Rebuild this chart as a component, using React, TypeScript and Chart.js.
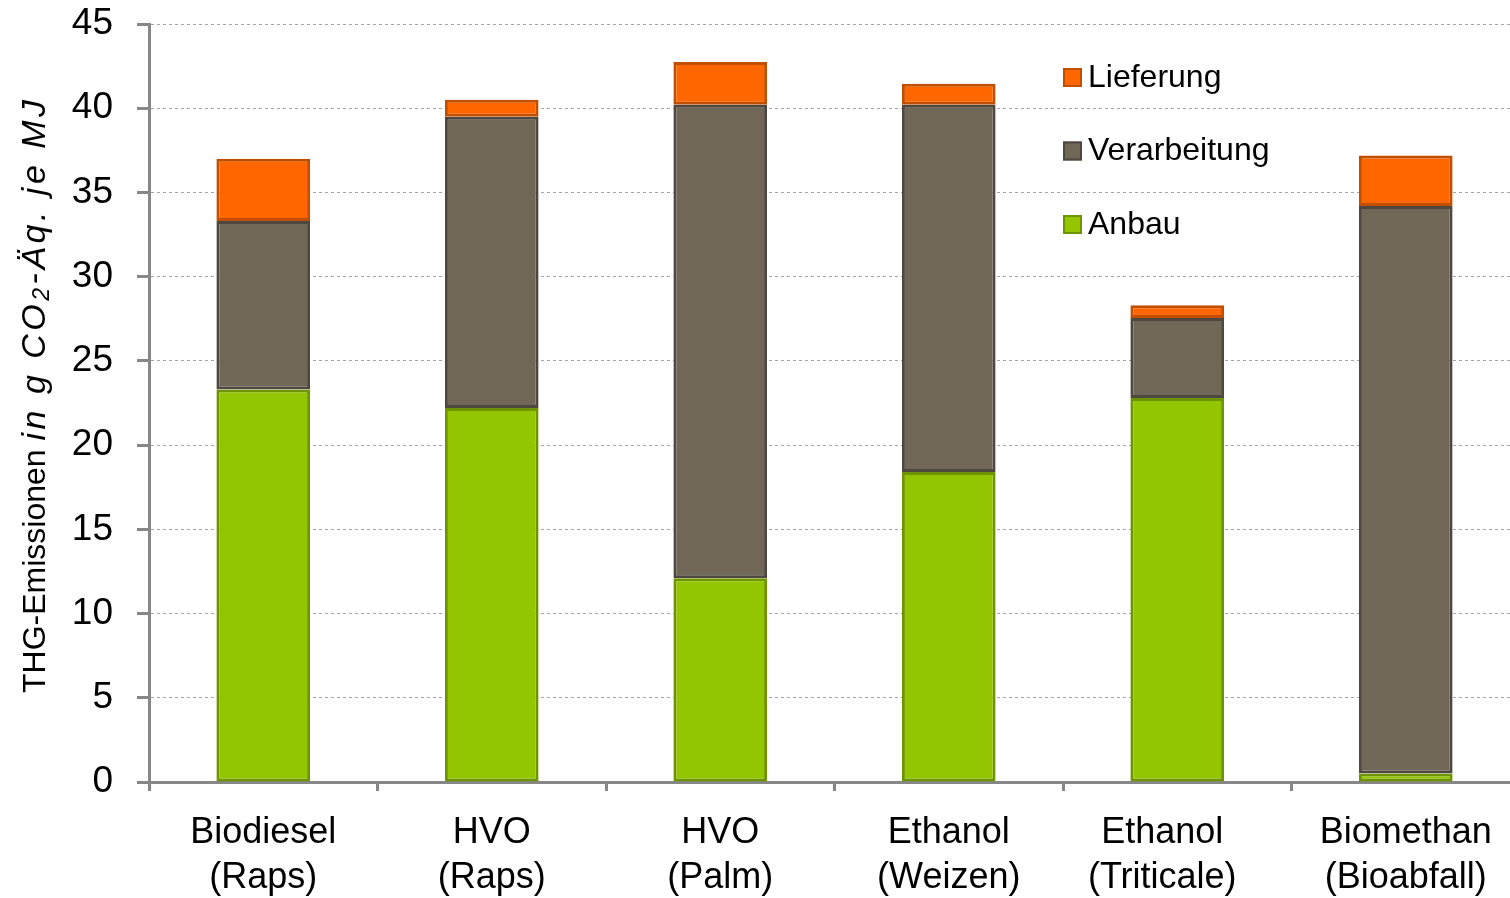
import React, { useEffect, useRef } from "react";
import { Chart, registerables } from "chart.js";

Chart.register(...registerables);

const categories: string[][] = [
  ["Biodiesel", "(Raps)"],
  ["HVO", "(Raps)"],
  ["HVO", "(Palm)"],
  ["Ethanol", "(Weizen)"],
  ["Ethanol   ", "(Triticale)   "],
  ["Biomethan", "(Bioabfall)"],
];

const anbau = [23.3, 22.2, 12.1, 18.4, 22.8, 0.5];
const verarbeitung = [10.0, 17.3, 28.1, 21.8, 4.75, 33.7];
const lieferung = [3.7, 1.0, 2.55, 1.25, 0.75, 3.0];

const yTicks = [0, 5, 10, 15, 20, 25, 30, 35, 40, 45];

const FONT = "'Liberation Sans', Arial, sans-serif";
const AXIS_GREY = "#878787";

// Legend drawn inside the plot area, in reverse stacking order
const legendPlugin = {
  id: "innerLegend",
  afterDraw(chart: any) {
    const ctx = chart.ctx;
    const items = [...chart.data.datasets].reverse();
    ctx.save();
    ctx.font = `32px ${FONT}`;
    ctx.textBaseline = "middle";
    ctx.textAlign = "left";
    items.forEach((ds: any, i: number) => {
      const cy = 77 + i * 73.5;
      const bx = 1063;
      ctx.fillStyle = ds.backgroundColor;
      ctx.fillRect(bx, cy - 9, 19, 19);
      ctx.strokeStyle = ds.borderColor;
      ctx.lineWidth = 2;
      ctx.strokeRect(bx + 1, cy - 8, 17, 17);
      ctx.fillStyle = "#000";
      ctx.fillText(ds.label, 1088, cy + 1);
    });
    ctx.restore();
  },
};

// Rotated y-axis title with an italic unit part and a subscript
const yTitlePlugin = {
  id: "yTitle",
  afterDraw(chart: any) {
    const ctx = chart.ctx;
    const spacing = 3.5;
    const parts = [
      { t: "THG-Emissionen ", f: `32px ${FONT}`, dy: 0, sp: 0 },
      { t: "in g CO", f: `italic 34px ${FONT}`, dy: 0, sp: spacing },
      { t: "2", f: `italic 23px ${FONT}`, dy: 7, sp: spacing },
      { t: "-Äq. je MJ", f: `italic 34px ${FONT}`, dy: 0, sp: spacing },
    ];
    ctx.save();
    ctx.translate(35, 693);
    ctx.rotate(-Math.PI / 2);
    ctx.textBaseline = "middle";
    ctx.textAlign = "left";
    ctx.fillStyle = "#000";
    let x = 0;
    parts.forEach((p) => {
      ctx.font = p.f;
      if (p.sp === 0) {
        ctx.fillText(p.t, x, p.dy + 1);
        x += ctx.measureText(p.t).width;
      } else {
        for (const ch of p.t) {
          ctx.fillText(ch, x, p.dy + 1);
          x += ctx.measureText(ch).width + p.sp;
        }
      }
    });
    ctx.restore();
  },
};

export default function App() {
  const ref = useRef<HTMLCanvasElement | null>(null);

  useEffect(() => {
    if (!ref.current) return;
    const chart = new Chart(ref.current, {
      type: "bar",
      data: {
        labels: categories,
        datasets: [
          {
            label: "Anbau",
            data: anbau,
            backgroundColor: "#94C600",
            borderColor: "#6E9400",
            borderWidth: 3,
            borderSkipped: false,
          },
          {
            label: "Verarbeitung",
            data: verarbeitung,
            backgroundColor: "#706757",
            borderColor: "#4E4840",
            borderWidth: 3,
            borderSkipped: false,
          },
          {
            label: "Lieferung",
            data: lieferung,
            backgroundColor: "#FF6600",
            borderColor: "#C24E00",
            borderWidth: 3,
            borderSkipped: false,
          },
        ],
      },
      plugins: [legendPlugin, yTitlePlugin],
      options: {
        responsive: false,
        animation: false,
        layout: { padding: { top: 24, right: 10, left: 0, bottom: 0 } },
        datasets: {
          bar: { barPercentage: 0.41, categoryPercentage: 1 },
        },
        plugins: {
          legend: { display: false },
          tooltip: { enabled: false },
        },
        scales: {
          x: {
            stacked: true,
            afterFit: (scale: any) => {
              scale.height = 116;
              scale.paddingLeft = 0;
              scale.paddingRight = 0;
            },
            border: { display: true, color: AXIS_GREY, width: 3 },
            grid: {
              display: true,
              drawOnChartArea: false,
              offset: true,
              tickLength: 9,
              tickColor: AXIS_GREY,
              tickWidth: 3,
            },
            ticks: {
              color: "#000",
              padding: 20,
              font: { family: FONT, size: 36, lineHeight: 1.25 },
              maxRotation: 0,
              autoSkip: false,
            },
          },
          y: {
            stacked: true,
            min: 0,
            max: 45,
            afterFit: (scale: any) => {
              scale.width = 149;
              scale.paddingTop = 0;
              scale.paddingBottom = 0;
            },
            afterBuildTicks: (scale: any) => {
              scale.ticks = yTicks.map((v) => ({ value: v }));
            },
            border: { display: true, color: AXIS_GREY, width: 3, dash: [3, 3] },
            grid: {
              display: true,
              color: "#A6A6A6",
              lineWidth: 1,
              tickLength: 12,
              tickColor: AXIS_GREY,
              tickWidth: 3,
              tickBorderDash: [],
            },
            ticks: {
              color: "#000",
              padding: 24,
              font: { family: FONT, size: 37 },
            },
          } as any,
        },
      },
    });
    return () => chart.destroy();
  }, []);

  return (
    <div
      style={{
        position: "fixed",
        left: 0,
        top: 0,
        width: 1510,
        height: 898,
        overflow: "hidden",
        background: "#fff",
      }}
    >
      <canvas ref={ref} width={1530} height={898} />
    </div>
  );
}
